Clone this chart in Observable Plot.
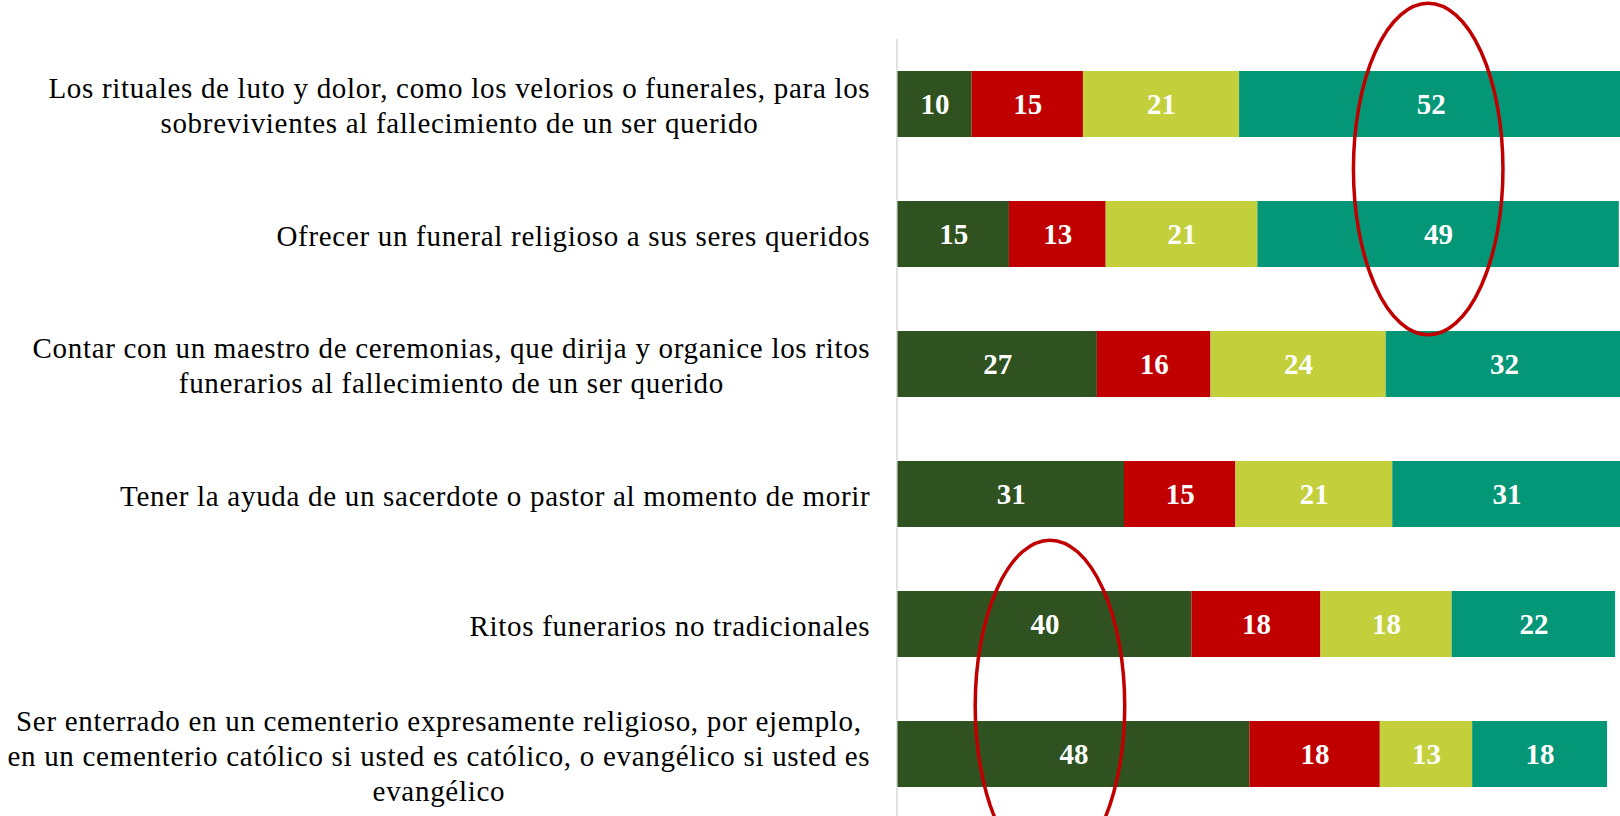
<!DOCTYPE html>
<html><head><meta charset="utf-8">
<script src="https://cdn.jsdelivr.net/npm/d3@7"></script>
<script src="https://cdn.jsdelivr.net/npm/@observablehq/plot@0.6"></script>
<style>
html,body{margin:0;padding:0;background:#fff;overflow:hidden;}
#chart{width:1620px;height:816px;}
</style></head><body><div id="chart"></div>
<script>
// ---- data ----
const categories = [
  "Los rituales de luto y dolor, como los velorios o funerales, para los\nsobrevivientes al fallecimiento de un ser querido",
  "Ofrecer un funeral religioso a sus seres queridos",
  "Contar con un maestro de ceremonias, que dirija y organice los ritos\nfunerarios al fallecimiento de un ser querido",
  "Tener la ayuda de un sacerdote o pastor al momento de morir",
  "Ritos funerarios no tradicionales",
  "Ser enterrado en un cementerio expresamente religioso, por ejemplo,\nen un cementerio católico si usted es católico, o evangélico si usted es\nevangélico"
];
const seriesNames = ["Serie 1", "Serie 2", "Serie 3", "Serie 4"];
const serie1 = [10.1, 15.2, 27.2, 30.9, 40.1, 48.0];
const serie2 = [15.2, 13.2, 15.5, 15.2, 17.6, 17.8];
const serie3 = [21.3, 20.7, 23.9, 21.4, 17.9, 12.6];
const serie4 = [52.3, 49.3, 32.3, 31.2, 22.3, 18.4];
const seriesColors = ["#2f5220", "#c00000", "#c3d03c", "#039677"];
// highlighted groups: rows circled and the value (x) at the ellipse centre
const highlightRows = [[0, 1], [4, 5]];
const highlightX = [72.4, 20.8];

// ---- table built from the arrays ----
const seriesValues = [serie1, serie2, serie3, serie4];
const table = categories.flatMap((c, i) =>
  seriesNames.map((s, j) => ({category: c, series: s, value: seriesValues[j][i]})));

const FONT = "'Liberation Serif', 'Times New Roman', serif";
const LABEL_FS = 29;
const LETTER_SP = 0.7;
const ctx = document.createElement("canvas").getContext("2d");
ctx.font = `${LABEL_FS}px 'Liberation Serif'`;

const labelMarks = categories.map(c => {
  const w = d3.max(c.split("\n"), l => ctx.measureText(l).width + (l.length - 1) * LETTER_SP);
  return Plot.text([c], {
    y: d => d, text: d => d, frameAnchor: "left", textAnchor: "middle",
    dx: -(27.5 + w / 2), fontSize: LABEL_FS, lineHeight: 35 / LABEL_FS, fill: "#000"
  });
});

const highlightShift = [0, 0.13];
const ellipses = function (...args) {
  const scales = args.find(a => a && typeof a.y === "function");
  const x = scales.x, y = scales.y;
  const bw = y.bandwidth(), step = y.step();
  const g = d3.create("svg:g");
  highlightRows.forEach((rows, k) => {
    const cx = x(highlightX[k]);
    const cy = d3.mean(rows, r => y(categories[r]) + bw / 2) + highlightShift[k] * step;
    g.append("ellipse")
      .attr("cx", cx).attr("cy", cy)
      .attr("rx", x(highlightX[k] + 10.2) - cx)
      .attr("ry", 1.275 * step)
      .attr("fill", "none").attr("stroke", "#c00000").attr("stroke-width", 3.5);
  });
  return g.node();
};

const chart = Plot.plot({
  width: 1620, height: 816,
  marginLeft: 897, marginRight: 0, marginTop: 39, marginBottom: 0,
  style: {fontFamily: FONT, background: "white", overflow: "hidden"},
  x: {domain: [0, 100], range: [897.5, 1630.5], axis: null},
  y: {domain: categories, range: [6, 853], padding: 0.49, axis: null},
  color: {domain: seriesNames, range: seriesColors},
  marks: [
    Plot.ruleX([0], {stroke: "#d9d9d9", strokeWidth: 1.5, dx: -1}),
    Plot.barX(table, Plot.stackX({x: "value", y: "category", fill: "series", order: seriesNames})),
    Plot.text(table, Plot.stackX({
      x: "value", y: "category", z: "series", order: seriesNames,
      text: d => d3.format(".0f")(d.value), fill: "white", fontWeight: "bold", fontSize: 29
    })),
    ...labelMarks,
    ellipses
  ]
});
// widen the category labels' letter spacing to match the reference typeface
const labelTexts = new Set(categories.map(c => c.replace(/\n/g, "")));
d3.select(chart).selectAll("text")
  .filter(function () { return labelTexts.has(this.textContent); })
  .style("letter-spacing", LETTER_SP + "px");
document.getElementById("chart").appendChild(chart);
</script>
</body></html>
